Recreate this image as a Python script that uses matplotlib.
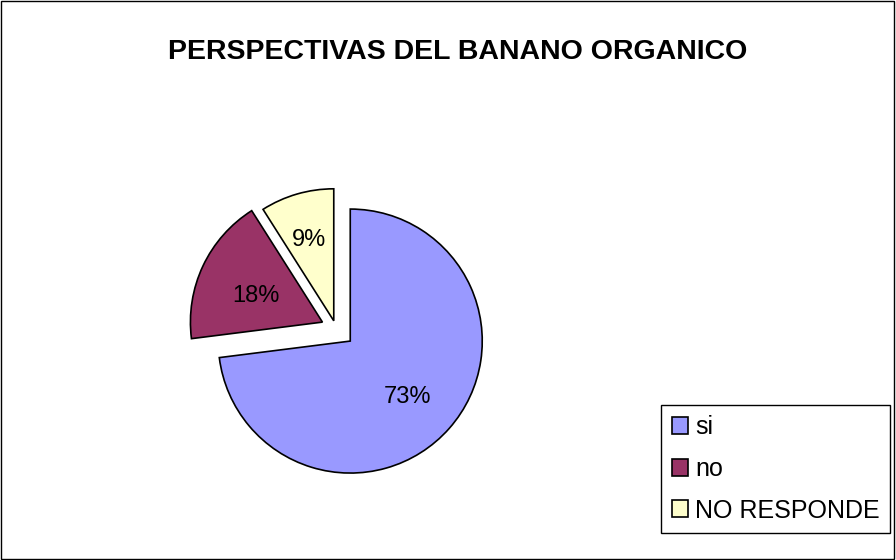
import numpy as np
import matplotlib.pyplot as plt
from matplotlib.patches import Rectangle

# Data
labels = ['si', 'no', 'NO RESPONDE']
values = [73, 18, 9]
colors = ['#9999FF', '#993366', '#FFFFCC']
explode = [19, 15, 8]          # absolute offsets (pie drawn in pixel-like units)
label_dist = [0.58, 0.56, 0.68]

plt.rcParams['font.family'] = ['Liberation Sans', 'DejaVu Sans']

fig = plt.figure(figsize=(8.96, 5.6), dpi=100)
ax = fig.add_axes([0, 0, 1, 1])

wedges, texts, autotexts = ax.pie(
    values,
    colors=colors,
    explode=explode,
    startangle=90,
    counterclock=False,
    center=(336, 231.5),
    radius=132,
    autopct='%d%%',
    wedgeprops=dict(edgecolor='black', linewidth=1.2),
    textprops=dict(fontsize=17, color='black'),
)

# pie() resets the limits, so set them afterwards
ax.set_xlim(0, 896)
ax.set_ylim(0, 560)
ax.set_aspect('equal')
ax.axis('off')

# move percentage labels inside each wedge
for w, t, f in zip(wedges, autotexts, label_dist):
    mid = np.deg2rad((w.theta1 + w.theta2) / 2)
    cx, cy = w.center
    t.set_position((cx + f * w.r * np.cos(mid), cy + f * w.r * np.sin(mid) - 5))

fig.text(0.511, 1 - 52 / 560, 'PERSPECTIVAS DEL BANANO ORGANICO',
         ha='center', va='center', fontsize=20.5, fontweight='bold')

leg = fig.legend(wedges, labels, loc='upper left',
                 bbox_to_anchor=(661 / 896, 1 - 405 / 560),
                 fontsize=18, frameon=True, fancybox=False,
                 edgecolor='black', framealpha=1, borderaxespad=0,
                 handlelength=0.65, handleheight=0.65, handletextpad=0.3,
                 labelspacing=0.7, borderpad=0.42)
leg.get_frame().set_linewidth(1.0)

# outer chart border
fig.patches.append(Rectangle((0.001, 0.001), 0.997, 0.997, transform=fig.transFigure,
                             fill=False, edgecolor='black', linewidth=1.0))

fig.savefig('out.png', dpi=100)
